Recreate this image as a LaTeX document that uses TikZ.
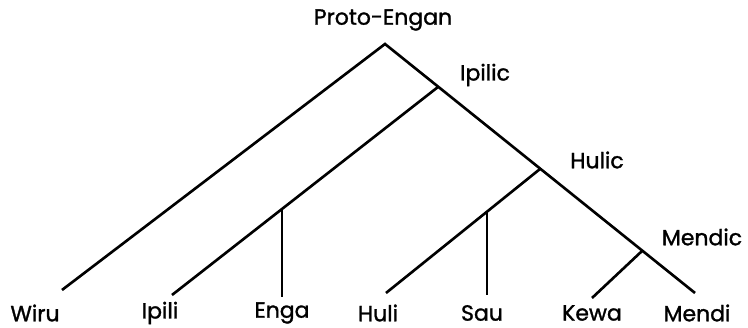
\documentclass[tikz,border=0pt]{standalone}
\usepackage{fontspec}
\setmainfont{Poppins}[FakeBold=1.3]
\usepackage{tikz}

\tikzset{
  branch/.style={black, line width=1.5pt},
  stem/.style={black, line width=1.1pt},
  lang/.style={font=\fontsize{12.5}{14}\selectfont, inner sep=1pt},
}

\begin{document}
\begin{tikzpicture}
\useasboundingbox (0,0) rectangle (14.96,6.56);

% =========================
% BRANCH POINTS
% =========================
\coordinate (root) at (7.70,5.68);
\coordinate (ipilic) at (8.76,4.82);
\coordinate (hulic) at (10.80,3.18);
\coordinate (mendic) at (12.84,1.54);
\coordinate (engajoin) at (5.64,2.38);
\coordinate (saujoin) at (9.74,2.33);

% line ends above the leaves
\coordinate (wiruend) at (1.24,0.76);
\coordinate (ipiliend) at (3.44,0.66);
\coordinate (engaend) at (5.64,0.62);
\coordinate (huliend) at (7.72,0.70);
\coordinate (sauend) at (9.74,0.66);
\coordinate (kewaend) at (11.84,0.60);
\coordinate (mendiend) at (13.90,0.70);

% =========================
% GROUP LABELS
% =========================
\node[lang] (protoengan) at (7.66,6.16) {Proto-Engan};
\node[lang] (ipiliclabel) at (9.70,5.06) {Ipilic};
\node[lang] (huliclabel) at (11.94,3.36) {Hulic};
\node[lang] (mendiclabel) at (14.04,1.82) {Mendic};

% =========================
% LANGUAGES
% =========================
\node[lang] (wiru) at (0.70,0.30) {Wiru};
\node[lang] (ipili) at (3.20,0.30) {Ipili};
\node[lang] (enga) at (5.64,0.30) {Enga};
\node[lang] (huli) at (7.56,0.30) {Huli};
\node[lang] (sau) at (9.64,0.30) {Sau};
\node[lang] (kewa) at (11.84,0.30) {Kewa};
\node[lang] (mendi) at (13.94,0.30) {Mendi};

% =========================
% TREE
% =========================
\draw[branch] (wiruend) -- (root) -- (mendiend);
\draw[branch] (ipiliend) -- (ipilic);
\draw[branch] (huliend) -- (hulic);
\draw[branch] (kewaend) -- (mendic);
\draw[stem] (engajoin) -- (engaend);
\draw[stem] (saujoin) -- (sauend);

\end{tikzpicture}
\end{document}
